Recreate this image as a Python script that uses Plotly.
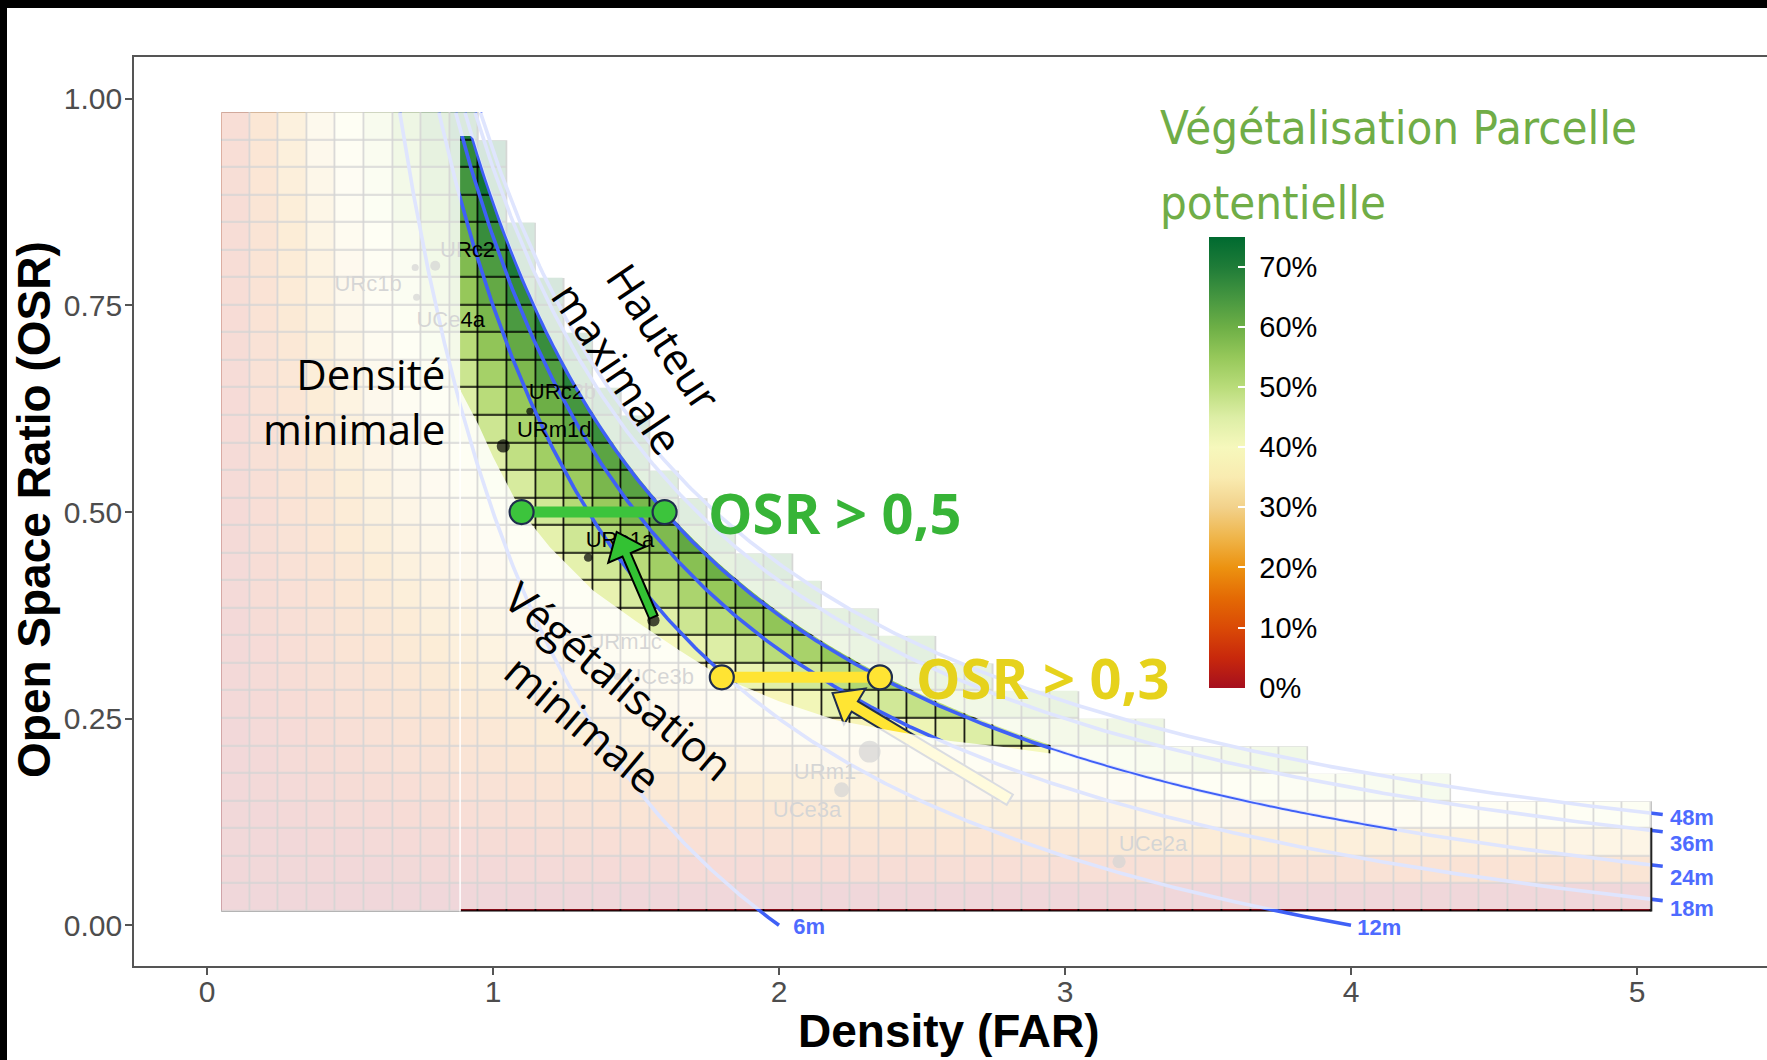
import numpy as np
import plotly.graph_objects as go

# ------------------------------------------------------------------
# Data
# ------------------------------------------------------------------
# Tile grid: centre of each density (FAR) column and open-space-ratio (OSR) row
FAR_CENTRES = np.round(np.arange(1, 51) * 0.1, 2)      # 0.1 ... 5.0
OSR_CENTRES = np.arange(1, 30) / 30.0                   # 1/30 ... 29/30
FAR_HALF_STEP = 0.05
OSR_HALF_STEP = 1.0 / 60.0

# Potential plot vegetation share as a function of FAR and OSR
PLANTABLE_SHARE = 0.835       # share of the unbuilt ground that can be planted
PAVING_PER_FAR = 0.0284       # ground lost to access / parking per unit of FAR
VEG_SCALE_MAX = 0.75          # top of the colour scale

# Building-height iso-lines (OSR = 1/FAR - floor height / height)
FLOOR_HEIGHT_M = 3.0
HEIGHT_LINES_M = [6, 12, 18, 24, 36, 48]
HEIGHT_LABELS = ["6m", "12m", "18m", "24m", "36m", "48m"]
MAX_TILE_HEIGHT_M = 48        # tiles shown up to this height
MAX_BAND_HEIGHT_M = 24        # "Hauteur maximale"
MIN_FAR = 0.885               # "Densité minimale"
BAND_TOP_OSR = 0.955
HEIGHT_LINE_END_FAR = 5.09
STRONG_24M_END_FAR = 4.16

# "Végétalisation minimale" edge of the admissible band
MIN_VEG_EDGE_FAR = [0.885, 0.95, 1.0, 1.1, 1.2, 1.35, 1.5, 1.65, 1.8, 2.0, 2.2, 2.4, 2.6, 2.8, 2.95]
MIN_VEG_EDGE_OSR = [0.648, 0.605, 0.567, 0.500, 0.457, 0.405, 0.368, 0.333, 0.300, 0.271, 0.248,
                    0.235, 0.223, 0.215, 0.208]

# Neighbourhood samples
SITE_NAMES = ["URc2", "URc1b", "UCe4a", "URc2b", "URm1d", "URe1a", "URm1c", "UCe3b", "URm1", "UCe3a", "UCe2a"]
SITE_FAR = [0.798, 0.728, 0.733, 1.129, 1.036, 1.333, 1.561, 1.435, 2.317, 2.219, 3.189]
SITE_OSR = [0.798, 0.796, 0.760, 0.622, 0.580, 0.445, 0.369, 0.301, 0.210, 0.164, 0.077]
SITE_PARCELS = [4, 2, 2, 2, 7, 3, 6, 2, 19, 9, 7]

# Open-space targets
OSR_TARGETS = [0.5, 0.3]
OSR_TARGET_TEXT = ["OSR > 0,5", "OSR > 0,3"]

# Legend colour scale (percent -> colour)
SCALE_PCT = [0, 5, 10, 15, 20, 25, 30, 35, 40, 45, 50, 55, 60, 65, 70, 75]
SCALE_HEX = ["#a50f1e", "#c8280c", "#da4a06", "#e46a04", "#ec9210", "#efb54a", "#f2d18a", "#f9ebb0",
             "#f6f8bc", "#ddeea6", "#b9dc7a", "#96c85a", "#6daf46", "#459640", "#1f7c38", "#006a30"]
SCALE_TICKS = [0.0, 0.1, 0.2, 0.3, 0.4, 0.5, 0.6, 0.7]

# ------------------------------------------------------------------
# Layout constants
# ------------------------------------------------------------------
W, H = 1767, 1060
M_L, M_R, M_T, M_B = 134, 0, 57, 94
PW, PH = W - M_L - M_R, H - M_T - M_B
X_RANGE = [-0.2552, 5.4545]
Y_RANGE = [-0.0493, 1.0507]

ARIAL = "Liberation Sans, Arial, sans-serif"
SANS = "Open Sans, Noto Sans, sans-serif"
AXIS_GREY = "#555555"
TICK_GREY = "#4d4d4d"
LINE_BLUE = "#3f60f6"
LABEL_BLUE = "#4e6bff"
HAZE = "rgba(255,255,255,0.835)"
NAVY = "#1f2d4d"
GREEN = "#3cc43c"
YELLOW = "#ffe433"
NBSP = "\u00a0"

SITE_LABEL_NUDGE = [(0.113, 0.017), (-0.165, -0.022), (0.119, -0.029), (0.114, 0.022), (0.178, 0.017),
                    (0.111, 0.019), (-0.099, -0.028), (0.148, -0.002), (-0.156, -0.026),
                    (-0.121, -0.0265), (0.119, 0.020)]
HEIGHT_LABEL_NUDGE = {6: (0.05, -0.004), 12: (0.022, -0.005), 18: (0.025, -0.012),
                      24: (0.025, -0.0158), 36: (0.025, -0.016), 48: (0.025, -0.006)}


def height_osr(far, height_m):
    return 1.0 / np.asarray(far, dtype=float) - FLOOR_HEIGHT_M / height_m


def veg_share(far, osr):
    return np.clip(PLANTABLE_SHARE * far * osr - PAVING_PER_FAR * far, 0, None)


def to_px(x, y):
    return ((x - X_RANGE[0]) / (X_RANGE[1] - X_RANGE[0]) * PW,
            (Y_RANGE[1] - y) / (Y_RANGE[1] - Y_RANGE[0]) * PH)


def to_data(px, py):
    return (X_RANGE[0] + px / PW * (X_RANGE[1] - X_RANGE[0]),
            Y_RANGE[1] - py / PH * (Y_RANGE[1] - Y_RANGE[0]))


def path_of(points, close=True):
    s = "M " + " L ".join(f"{x:.5f},{y:.5f}" for x, y in points)
    return s + (" Z" if close else "")


def arrow_path(tail, tip, shaft_hw, head_hw, head_len):
    tx, ty = to_px(*tail)
    hx, hy = to_px(*tip)
    dx, dy = hx - tx, hy - ty
    length = np.hypot(dx, dy)
    ux, uy = dx / length, dy / length
    nx, ny = -uy, ux
    bx, by = hx - ux * head_len, hy - uy * head_len
    pts = [(tx + nx * shaft_hw, ty + ny * shaft_hw), (bx + nx * shaft_hw, by + ny * shaft_hw),
           (bx + nx * head_hw, by + ny * head_hw), (hx, hy),
           (bx - nx * head_hw, by - ny * head_hw), (bx - nx * shaft_hw, by - ny * shaft_hw),
           (tx - nx * shaft_hw, ty - ny * shaft_hw)]
    return path_of([to_data(px, py) for px, py in pts])


def paper_x(px):
    return (px - M_L) / PW


def paper_y(py):
    return 1 - (py - M_T) / PH


# ------------------------------------------------------------------
# Tiles
# ------------------------------------------------------------------
FF, OO = np.meshgrid(FAR_CENTRES, OSR_CENTRES)
inside = OO <= height_osr(FF, MAX_TILE_HEIGHT_M)
veg_z = np.where(inside, veg_share(FF, OO), np.nan)

grid_left = FAR_CENTRES[0] - FAR_HALF_STEP
grid_right = FAR_CENTRES[-1] + FAR_HALF_STEP
grid_bottom = OSR_CENTRES[0] - OSR_HALF_STEP
grid_top = OSR_CENTRES[-1] + OSR_HALF_STEP

# staircase outline of the tiled area (dark tile borders show through the gaps)
stair = [(grid_left, grid_bottom)]
for j, far in enumerate(FAR_CENTRES):
    top = OSR_CENTRES[inside[:, j]].max() + OSR_HALF_STEP
    stair += [(far - FAR_HALF_STEP, top), (far + FAR_HALF_STEP, top)]
stair.append((grid_right, grid_bottom))

colorscale = [[p / (VEG_SCALE_MAX * 100), c] for p, c in zip(SCALE_PCT, SCALE_HEX)]
colorscale[-1][0] = 1.0

fig = go.Figure()
fig.add_trace(go.Heatmap(
    x=FAR_CENTRES, y=OSR_CENTRES, z=veg_z,
    zmin=0, zmax=VEG_SCALE_MAX, colorscale=colorscale,
    xgap=1.6, ygap=1.6, hoverinfo="skip",
    colorbar=dict(
        thickness=36, thicknessmode="pixels", len=451, lenmode="pixels",
        x=1208.5 / W, xref="container", xanchor="left", xpad=0,
        y=1 - 276 / H, yref="container", yanchor="top", ypad=0,
        outlinewidth=0,
        tickvals=SCALE_TICKS, ticktext=[f"{NBSP}{int(round(v * 100))}%" for v in SCALE_TICKS],
        ticks="inside", ticklen=7, tickcolor="white", tickwidth=1.5,
        tickfont=dict(family=ARIAL, size=29, color="black"),
    ),
))

# ------------------------------------------------------------------
# Height iso-lines
# ------------------------------------------------------------------
line_ends = {}
for h in HEIGHT_LINES_M:
    far_start = 1.0 / (grid_top + FLOOR_HEIGHT_M / h)
    far_end = min(h / FLOOR_HEIGHT_M, HEIGHT_LINE_END_FAR)
    far = np.linspace(far_start, far_end, 400)
    osr = height_osr(far, h)
    line_ends[h] = (far[-1], float(osr[-1]))
    fig.add_trace(go.Scatter(x=far, y=osr, mode="lines", line=dict(color=LINE_BLUE, width=3.6),
                             hoverinfo="skip", showlegend=False))

# ------------------------------------------------------------------
# Neighbourhood samples
# ------------------------------------------------------------------
fig.add_trace(go.Scatter(
    x=SITE_FAR, y=SITE_OSR, mode="markers",
    marker=dict(color="black", size=[5 * np.sqrt(n) for n in SITE_PARCELS], line=dict(width=0)),
    hoverinfo="skip", showlegend=False))
fig.add_trace(go.Scatter(
    x=[f + d[0] for f, d in zip(SITE_FAR, SITE_LABEL_NUDGE)],
    y=[o + d[1] for o, d in zip(SITE_OSR, SITE_LABEL_NUDGE)],
    mode="text", text=SITE_NAMES, textposition="middle center",
    textfont=dict(family=ARIAL, size=22, color="black"),
    hoverinfo="skip", showlegend=False))

# height labels at the end of each line
fig.add_trace(go.Scatter(
    x=[line_ends[h][0] + HEIGHT_LABEL_NUDGE[h][0] for h in HEIGHT_LINES_M],
    y=[line_ends[h][1] + HEIGHT_LABEL_NUDGE[h][1] for h in HEIGHT_LINES_M],
    mode="text", text=HEIGHT_LABELS, textposition="middle right",
    textfont=dict(family=ARIAL, size=22, color=LABEL_BLUE, weight="bold"),
    hoverinfo="skip", showlegend=False))

# ------------------------------------------------------------------
# Admissible band (left unhazed) and haze over the rest
# ------------------------------------------------------------------
edge_far = np.array(MIN_VEG_EDGE_FAR)
edge_osr = np.array(MIN_VEG_EDGE_OSR)
top_far = np.linspace(MIN_FAR, edge_far[-1], 220)
top_osr = np.minimum(height_osr(top_far, MAX_BAND_HEIGHT_M) + 0.004, BAND_TOP_OSR)
sliver_far = np.linspace(edge_far[-1], STRONG_24M_END_FAR, 80)
sliver_osr = height_osr(sliver_far, MAX_BAND_HEIGHT_M)

band = [(MIN_FAR, edge_osr[0])]
band += list(zip(top_far, top_osr))
band += list(zip(sliver_far, sliver_osr + 0.0012))
band += list(zip(sliver_far[::-1], sliver_osr[::-1] - 0.0012))
band += list(zip(edge_far[::-1], edge_osr[::-1]))

strip_top = grid_bottom + 0.003
outer = [(grid_left, grid_bottom), (MIN_FAR, grid_bottom), (MIN_FAR, strip_top), (grid_right, strip_top),
         (grid_right, grid_top), (grid_left, grid_top)]
haze_path = path_of(outer) + " " + path_of(band)

# bars for the open-space targets, running from the vegetation edge to the height edge
bars = []
for t in OSR_TARGETS:
    x0 = float(np.interp(t, edge_osr[::-1], edge_far[::-1]))
    x1 = 1.0 / (t + FLOOR_HEIGHT_M / MAX_BAND_HEIGHT_M)
    bars.append((x0, x1, t))

urm1c = SITE_NAMES.index("URm1c")
green_tail = (SITE_FAR[urm1c], SITE_OSR[urm1c] + 0.004)
green_tip = (1.4325, OSR_TARGETS[0] - 0.024)
yb = bars[1]
yellow_tip = (yb[0] + 0.7 * (yb[1] - yb[0]), yb[2] - 0.019)
yellow_tail = (yellow_tip[0] + 0.62, yellow_tip[1] - 0.129)

shapes = [
    dict(type="path", path=path_of(stair), xref="x", yref="y", layer="below",
         fillcolor="black", line=dict(width=0)),
    dict(type="path", path=arrow_path(yellow_tail, yellow_tip, 6, 21, 26), xref="x", yref="y",
         layer="above", fillcolor="#ffe533", line=dict(color=NAVY, width=2)),
    dict(type="path", path=haze_path, xref="x", yref="y", layer="above", fillcolor=HAZE,
         fillrule="evenodd", line=dict(width=0)),
    dict(type="line", x0=MIN_FAR, x1=MIN_FAR, y0=grid_bottom, y1=edge_osr[0], xref="x", yref="y",
         layer="above", line=dict(color="white", width=1.5)),
    dict(type="line", x0=grid_right, x1=grid_right, y0=grid_bottom, y1=0.118, xref="x", yref="y",
         layer="above", line=dict(color="#222222", width=2)),
]
for (x0, x1, t), col in zip(bars, [GREEN, YELLOW]):
    shapes.append(dict(type="line", x0=x0, x1=x1, y0=t, y1=t, xref="x", yref="y", layer="above",
                       line=dict(color=col, width=11)))
    for xc in (x0, x1):
        shapes.append(dict(type="circle", xref="x", yref="y", layer="above",
                           xsizemode="pixel", ysizemode="pixel", xanchor=xc, yanchor=t,
                           x0=-12, x1=12, y0=-12, y1=12,
                           fillcolor=col, line=dict(color=NAVY, width=2.2)))
shapes.append(dict(type="path", path=arrow_path(green_tail, green_tip, 4.5, 20, 25), xref="x", yref="y",
                   layer="above", fillcolor="#33c233", line=dict(color="black", width=2)))

# black frame on the top and left edges of the picture
shapes += [
    dict(type="rect", xref="paper", yref="paper", x0=paper_x(0), x1=paper_x(W), y0=paper_y(8), y1=paper_y(0),
         fillcolor="black", line=dict(width=0), layer="above"),
    dict(type="rect", xref="paper", yref="paper", x0=paper_x(0), x1=paper_x(7), y0=paper_y(H), y1=paper_y(0),
         fillcolor="black", line=dict(width=0), layer="above"),
]

# ------------------------------------------------------------------
# Text
# ------------------------------------------------------------------
annotations = [
    dict(text="Densité<br>minimale", x=0.838, y=0.634, xref="x", yref="y", xanchor="right",
         yanchor="middle", align="right", showarrow=False, font=dict(family=SANS, size=42, color="black")),
    dict(text="Hauteur<br>maximale", x=1.517, y=0.693, xref="x", yref="y", xanchor="center",
         yanchor="middle", align="center", textangle=56, showarrow=False,
         font=dict(family=SANS, size=43, color="black")),
    dict(text="Végétalisation<br>minimale", x=1.380, y=0.270, xref="x", yref="y", xanchor="center",
         yanchor="middle", align="center", textangle=40, showarrow=False,
         font=dict(family=SANS, size=43, color="black")),
]
for (x0, x1, t), txt, col, gap in zip(bars, OSR_TARGET_TEXT, ["#37b437", "#e6d21c"], [0.144, 0.119]):
    annotations.append(dict(text=txt, x=x1 + gap, y=t, xref="x", yref="y", xanchor="left", yanchor="middle",
                            showarrow=False, font=dict(family=SANS, size=56, color=col, weight="bold")))

legend_font = dict(family="Liberation Sans Narrow, DejaVu Sans Condensed, sans-serif", size=47, color="#70ad47")
annotations += [
    dict(text="Végétalisation Parcelle", x=paper_x(1158), y=paper_y(127), xref="paper", yref="paper",
         xanchor="left", yanchor="middle", showarrow=False, font=legend_font),
    dict(text="potentielle", x=paper_x(1158), y=paper_y(203), xref="paper", yref="paper",
         xanchor="left", yanchor="middle", showarrow=False, font=legend_font),
    dict(text="<b>Density (FAR)</b>", x=paper_x(949), y=paper_y(1031), xref="paper", yref="paper",
         xanchor="center", yanchor="middle", showarrow=False, font=dict(family=ARIAL, size=46, color="black")),
    dict(text="<b>Open Space Ratio (OSR)</b>", x=paper_x(34), y=paper_y(510), xref="paper", yref="paper",
         xanchor="center", yanchor="middle", textangle=-90, showarrow=False,
         font=dict(family=ARIAL, size=46, color="black")),
]

fig.update_layout(
    width=W, height=H, autosize=False,
    margin=dict(l=M_L, r=M_R, t=M_T, b=M_B, autoexpand=False),
    paper_bgcolor="white", plot_bgcolor="white", showlegend=False,
    xaxis=dict(range=X_RANGE, showgrid=False, zeroline=False, showline=True, mirror=True,
               linecolor=AXIS_GREY, linewidth=1.6, ticks="outside", ticklen=7, tickwidth=1.6,
               tickcolor=AXIS_GREY, tickvals=[0, 1, 2, 3, 4, 5], ticklabelstandoff=-9,
               tickfont=dict(family=ARIAL, size=30, color=TICK_GREY)),
    yaxis=dict(range=Y_RANGE, showgrid=False, zeroline=False, showline=True, mirror=False,
               linecolor=AXIS_GREY, linewidth=1.6, ticks="outside", ticklen=7, tickwidth=1.6,
               tickcolor=AXIS_GREY, tickvals=[0, 0.25, 0.5, 0.75, 1.0], tickformat=".2f",
               ticklabelstandoff=-3, tickfont=dict(family=ARIAL, size=30, color=TICK_GREY)),
    shapes=shapes, annotations=annotations,
)

fig.write_html("out.html")
